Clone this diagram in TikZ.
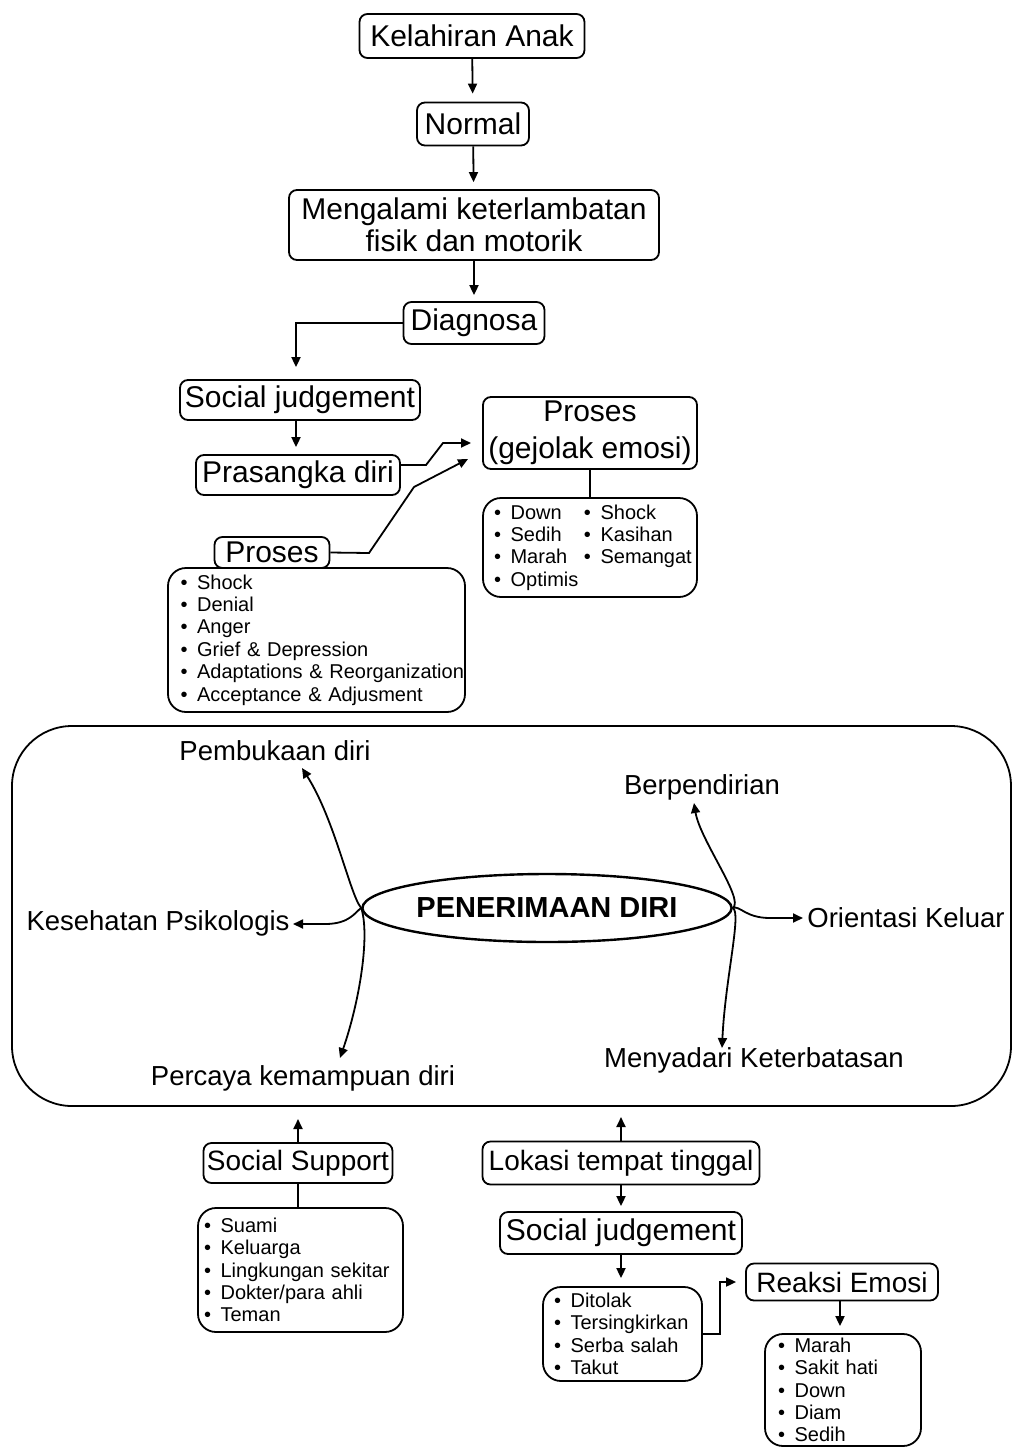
\documentclass[tikz,border=0pt]{standalone}
\usepackage{fontspec}
\setmainfont{Liberation Sans}
\usetikzlibrary{shapes.geometric,arrows.meta}
\newcommand\itm[1]{\mbox{\makebox[8.3pt][l]{•}#1}}
\begin{document}
\begin{tikzpicture}[x=0.5pt,y=-0.5pt,
  box/.style={draw, line width=0.9pt, rounded corners=4pt, inner sep=0pt, font=\fontsize{15}{16}\selectfont, align=center},
  sbox/.style={box, font=\fontsize{14}{16}\selectfont},
  lbox/.style={draw, line width=0.9pt, rounded corners=9pt, inner ysep=0pt, font=\fontsize{10}{11.2}\selectfont, align=left},
  arr/.style={line width=0.9pt, -{Triangle[length=5pt,width=4.5pt]}},
  con/.style={line width=0.9pt},
  lab/.style={font=\fontsize{13.75}{15}\selectfont, inner sep=0pt},
]
\useasboundingbox (0,0) rectangle (1013,1447);

% top chain
\node[box, minimum width=112.5pt, minimum height=22pt] (kel) at (472,36) {Kelahiran Anak};
\node[box, minimum width=56pt, minimum height=21.5pt] (nor) at (473,124) {Normal};
\node[box, minimum width=185pt, minimum height=35pt] (men) at (474,225) {Mengalami keterlambatan\\fisik dan motorik};
\node[box, minimum width=70.5pt, minimum height=21pt] (dia) at (474,323) {Diagnosa};
\node[box, minimum width=120pt, minimum height=20pt] (sj1) at (300,400) {Social judgement};
\node[box, minimum width=102pt, minimum height=20pt] (pra) at (298,475) {Prasangka diri};
\node[box, minimum width=107pt, minimum height=36pt, font=\fontsize{15}{18.5}\selectfont] (pge) at (590,433) {Proses\\(gejolak emosi)};
\node[lbox, text width=96pt, inner xsep=5.5pt, minimum height=49.5pt] (lge) at (590,547.5)
  {\mbox{\makebox[45pt][l]{\itm{Down}}\itm{Shock}}\\
   \mbox{\makebox[45pt][l]{\itm{Sedih}}\itm{Kasihan}}\\
   \mbox{\makebox[45pt][l]{\itm{Marah}}\itm{Semangat}}\\
   \itm{Optimis}};
\node[box, minimum width=57.5pt, minimum height=15.5pt] (pro) at (272,552.5) {Proses};
\node[lbox, text width=136pt, inner xsep=6.25pt, minimum height=72pt] (lpr) at (316.5,640)
  {\itm{Shock}\\ \itm{Denial}\\ \itm{Anger}\\ \itm{Grief \& Depression}\\ \itm{Adaptations \& Reorganization}\\ \itm{Acceptance \& Adjusment}};

\draw[arr, shorten >=4pt] (kel) -- (nor);
\draw[arr, shorten >=3.5pt] (nor) -- (men);
\draw[arr, shorten >=3pt] (men) -- (dia);
\draw[arr, shorten >=6pt] (dia.west) -| ([xshift=-2pt]sj1.north);
\draw[arr, shorten >=3.5pt] ([xshift=-2pt]sj1.south) -- ([xshift=-1pt]pra.north);
\coordinate (t1) at (471,443);
\coordinate (t2) at (468,459);
\draw[arr] ([yshift=5pt]pra.east) -- (426,465) -- (443,443) -- (t1);
\draw[arr] (pro.east) -- (369,553) -- (414,487) -- (t2);
\draw[con] (pge.south) -- (lge.north);

% central panel
\draw[line width=0.9pt, rounded corners=30pt] (12,726) rectangle (1011,1106);
\node[ellipse, draw, line width=1.2pt, minimum width=160pt, minimum height=34pt, inner sep=0pt,
      font=\bfseries\fontsize{14.5}{16}\selectfont] (pen) at (547,908) {PENERIMAAN DIRI};

\node[lab] (pem) at (275,751) {Pembukaan diri};
\node[lab] (ber) at (702,787) {Berpendirian};
\node[lab] (kes) at (158,923) {Kesehatan Psikologis};
\node[lab] (ori) at (906,918) {Orientasi Keluar};
\node[lab] (per) at (303,1078) {Percaya kemampuan diri};
\node[lab] (mny) at (754,1060) {Menyadari Keterbatasan};

\coordinate (tpem) at (302,768);
\coordinate (tkes) at (293,924);
\coordinate (tper) at (340,1058);
\coordinate (tber) at (694,803);
\coordinate (tori) at (803,918);
\coordinate (tmny) at (722,1048);

\draw[arr] (pen.west) .. controls (350,895) and (335,820) .. (tpem);
\draw[arr] (pen.west) .. controls (355,912) and (350,924) .. (325,924) -- (tkes);
\draw[arr] (pen.west) .. controls (370,935) and (360,1000) .. (tper);
\draw[arr] (pen.east) .. controls (745,900) and (700,840) .. (tber);
\draw[arr] (pen.east) .. controls (740,905) and (745,918) .. (770,918) -- (tori);
\draw[arr] (pen.east) .. controls (742,912) and (725,980) .. (tmny);

% bottom
\node[sbox, minimum width=94.5pt, minimum height=20pt] (ss) at (298,1163) {Social Support};
\node[lbox, text width=96.5pt, inner xsep=3pt, minimum height=62pt] (lss) at (300.5,1270)
  {\itm{Suami}\\ \itm{Keluarga}\\ \itm{Lingkungan sekitar}\\ \itm{Dokter/para ahli}\\ \itm{Teman}};
\node[sbox, minimum width=138.5pt, minimum height=21.5pt] (lok) at (621,1163) {Lokasi tempat tinggal};
\node[box, minimum width=121pt, minimum height=21pt] (sj2) at (621,1233) {Social judgement};
\node[lbox, text width=68.5pt, inner xsep=5.5pt, minimum height=47pt] (ljd) at (622.5,1334)
  {\itm{Ditolak}\\ \itm{Tersingkirkan}\\ \itm{Serba salah}\\ \itm{Takut}};
\node[sbox, minimum width=96pt, minimum height=18.5pt] (rea) at (842,1282) {Reaksi Emosi};
\node[lbox, text width=65pt, inner xsep=6.5pt, minimum height=56pt] (lre) at (843,1390)
  {\itm{Marah}\\ \itm{Sakit hati}\\ \itm{Down}\\ \itm{Diam}\\ \itm{Sedih}};

\coordinate (tss) at (298,1119);
\coordinate (tlok) at (621,1117);
\draw[arr] (ss.north) -- (tss);
\draw[con] (ss.south) -- (ss.south |- lss.north);
\draw[arr] (lok.north) -- (tlok);
\draw[arr, shorten >=2.5pt] (lok.south) -- (sj2.north);
\draw[arr, shorten >=4pt] (sj2.south) -- (sj2.south |- ljd.north);
\draw[arr] (ljd.east) -- ++(17,0) |- ([xshift=-4.5pt]rea.west);
\draw[arr, shorten >=3.5pt] ([xshift=-1pt]rea.south) -- ([xshift=-1pt]rea.south |- lre.north);
\end{tikzpicture}
\end{document}
